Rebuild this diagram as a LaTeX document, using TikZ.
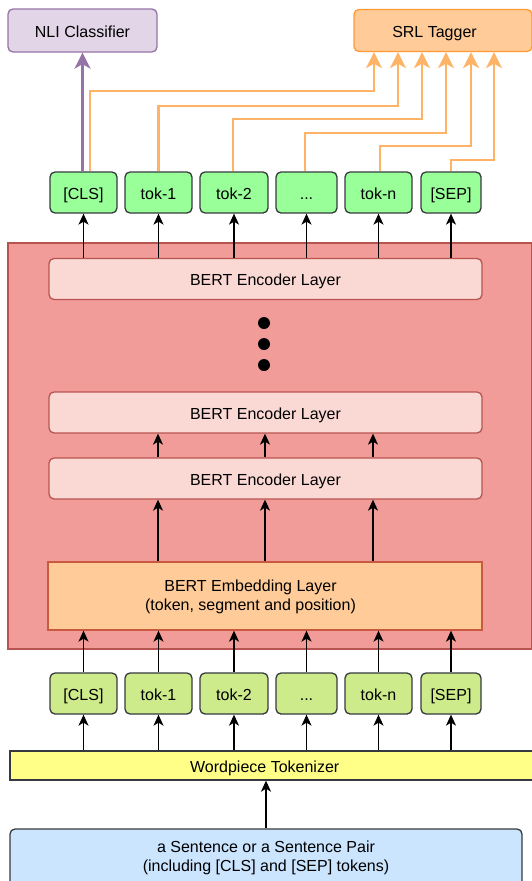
\documentclass[tikz,border=0pt]{standalone}
\usepackage{fontspec}
\setmainfont{Liberation Sans}
\usetikzlibrary{arrows.meta}

\definecolor{nlifill}{HTML}{E1D5E7}
\definecolor{nliedge}{HTML}{9673A6}
\definecolor{srlfill}{HTML}{FFCC99}
\definecolor{srledge}{HTML}{FF9933}
\definecolor{srlwire}{HTML}{FFB366}
\definecolor{bertfill}{HTML}{F19C99}
\definecolor{bertedge}{HTML}{B85450}
\definecolor{encfill}{HTML}{FAD9D5}
\definecolor{embedge}{HTML}{C95A3F}
\definecolor{outfill}{HTML}{99FF99}
\definecolor{infill}{HTML}{CDEB8B}
\definecolor{wpfill}{HTML}{FFFF88}
\definecolor{sentfill}{HTML}{CCE5FF}
\definecolor{darkedge}{HTML}{36393D}

\begin{document}
\begin{tikzpicture}[x=1pt, y=-1pt,
    every node/.style={font=\fontsize{16}{19.3}\selectfont, inner sep=2pt},
    oneline/.style={text height=13.6pt, text depth=0pt},
    box/.style={draw, line width=1.3pt, rounded corners=5pt},
    tokbox/.style={box, oneline, draw=darkedge, minimum height=41pt},
    encbox/.style={box, oneline, fill=encfill, draw=bertedge, minimum width=433pt, minimum height=41pt},
    arr/.style={-{Stealth[length=11pt, width=10pt, inset=3pt]}, line width=1.3pt},
    wide/.style={-{Stealth[length=16pt, width=16pt, inset=4.5pt]}, line width=2.5pt}]

    \useasboundingbox (0,0) rectangle (532,881);

    % Parameters
    \def\toprow{192.5}
    \def\botrow{693.5}

    % =====================================================
    % BERT block
    % =====================================================
    \node[draw=bertedge, fill=bertfill, line width=1.3pt,
          minimum width=523.5pt, minimum height=406pt] (bert) at (269.75,446) {};

    \node[encbox] (enc1) at (265.5,279) {BERT Encoder Layer};
    \node[encbox] (enc2) at (265.5,412.5) {BERT Encoder Layer};
    \node[encbox] (enc3) at (265.5,478.5) {BERT Encoder Layer};

    \foreach \y in {323,344,365}
        \fill (264,\y) circle (6pt);

    \node[draw=embedge, fill=srlfill, line width=1.3pt,
          minimum width=434pt, minimum height=68pt,
          label={[xshift=-14.5pt, yshift=-1pt, align=center]center:BERT Embedding Layer\\(token, segment and position)}]
          (emb) at (265,596) {};

    \foreach \x in {158,265,373} {
        \draw[arr] (\x,0 |- emb.north) -- (\x,0 |- enc3.south);
        \draw[arr] (\x,0 |- enc3.north) -- (\x,0 |- enc2.south);
    }

    % =====================================================
    % Token rows
    % =====================================================
    \foreach \n/\cx/\w/\lbl in {cls/83.5/67/{[CLS]}, t1/158.5/67/{tok-1}, t2/234/68/{tok-2},
                                 dd/306.5/61/{{...}}, tn/378.5/67/{tok-n}, sep/451/60/{[SEP]}} {
        \node[tokbox, fill=outfill, minimum width=\w] (o\n) at (\cx,\toprow) {\lbl};
        \node[tokbox, fill=infill, minimum width=\w] (i\n) at (\cx,\botrow) {\lbl};
        \draw[arr] (o\n.south |- enc1.north) -- (o\n.south);
        \draw[arr] (i\n.north) -- (i\n.north |- emb.south);
    }

    % =====================================================
    % Input side
    % =====================================================
    \node[draw=darkedge, fill=wpfill, line width=1.3pt,
          minimum width=523pt, minimum height=29pt,
          label={[oneline, xshift=-6.8pt]center:Wordpiece Tokenizer}] (wp) at (271.5,765.5) {};

    \foreach \n in {cls,t1,t2,dd,tn,sep}
        \draw[arr] (i\n.south |- wp.north) -- (i\n.south);

    \node[box, draw=darkedge, fill=sentfill, align=center,
          minimum width=512pt, minimum height=58pt] (sent) at (266,858)
          {a Sentence or a Sentence Pair\\(including [CLS] and [SEP] tokens)};

    \draw[arr] (sent.north) -- (sent.north |- wp.south);

    % =====================================================
    % Heads
    % =====================================================
    \node[box, oneline, draw=nliedge, fill=nlifill, minimum width=149pt, minimum height=43pt]
          (nli) at (82.5,30.5) {NLI Classifier};

    \node[box, draw=srledge, fill=srlfill, minimum width=178pt, minimum height=42pt,
          label={[oneline, xshift=-8.5pt]center:SRL Tagger}] (srl) at (443,30.5) {};

    \draw[wide, nliedge] (ocls.north -| nli.south) -- (nli.south);

    \foreach \n/\dx/\ty/\tx in {cls/6.5/91/374, t1/0/106/398, t2/-1/119/422,
                                dd/-1.5/133/446, tn/1.5/146/471, sep/0/160/494}
        \draw[wide, srlwire] ([xshift=\dx pt]o\n.north) |- (\tx,\ty) -- (\tx,0 |- srl.south);

\end{tikzpicture}
\end{document}
